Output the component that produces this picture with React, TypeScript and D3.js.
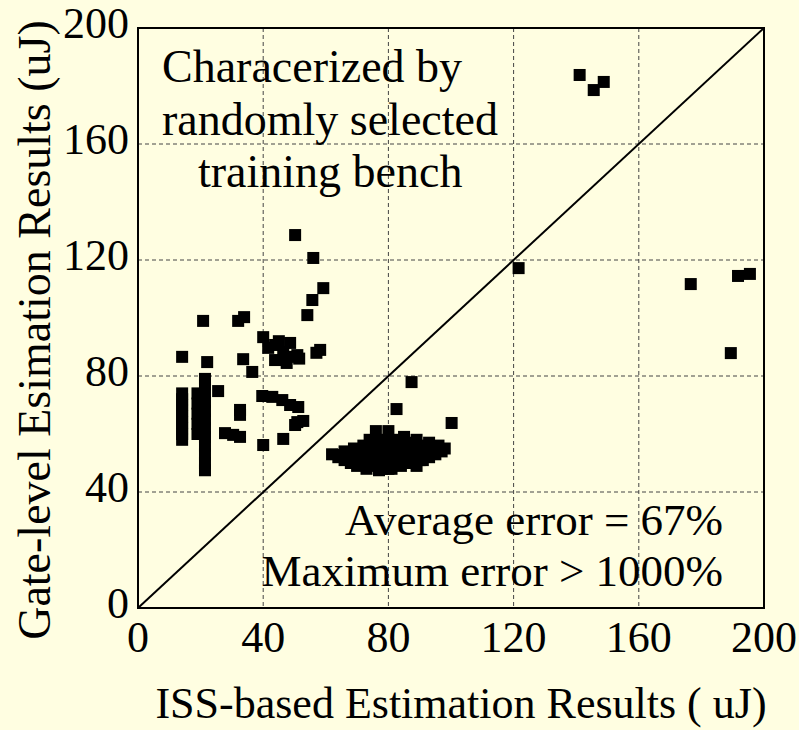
import React from "react";
import * as d3 from "d3";

const WIDTH = 799;
const HEIGHT = 730;
const MARGIN = { top: 28, right: 35, bottom: 122, left: 138 };

const xTicks = [0, 40, 80, 120, 160, 200];
const yTicks = [0, 40, 80, 120, 160, 200];

// ISS-based estimation (x)
const issValues = [
  // outliers
  141.1, 145.6, 148.8, 176.6, 191.7, 195.5, 189.4, 121.6, 87.4, 82.6, 100.2,
  // upper left group
  50.2, 56, 59.2, 55.7, 54.1, 20.8, 32, 33.9, 14.1, 22.1, 33.6, 36.5,
  40, 43.8, 46.4, 48.6, 50.9, 43.8, 48.3, 41.6, 58.2, 57, 45, 51.5, 47.5,
  // lower left group
  14.1, 14.1, 14.1, 14.1, 14.1, 14.1, 14.1, 14.1, 14.1,
  21.4, 21.4, 21.4, 21.4, 21.4, 21.4, 21.4, 21.4, 21.4, 21.4, 21.4, 21.4,
  19, 19, 19, 19, 19, 25.6, 32.6, 32.6, 27.8, 30.4, 32.6, 40, 46.4,
  39.7, 42.9, 46.1, 48.6, 51.2, 50.2, 52.8, 50.9,
  // main cluster
  62, 64, 66, 66, 68, 68, 69, 70, 70, 71, 72, 72, 73, 73, 74, 74, 75, 75,
  76, 76, 76, 77, 77, 78, 78, 79, 79, 80, 80, 81, 81, 82, 82, 83, 84, 84,
  85, 85, 86, 87, 87, 88, 88, 89, 89, 90, 91, 91, 92, 93, 93, 94, 95, 96,
  97, 98, 71, 74, 77, 80, 83, 86, 90, 70, 67, 65,
];

// Gate-level estimation (y)
const gateValues = [
  183.8, 178.6, 181.4, 111.7, 114.5, 115.2, 87.9, 117.2, 77.9, 68.6, 63.8,
  128.6, 120.7, 110.3, 106.2, 101, 99, 99, 100.3, 86.6, 84.8, 85.8, 81.4,
  93.4, 90.7, 88.3, 91.4, 87.2, 85.5, 86.6, 89.7, 89, 88, 92, 86, 84.5,
  58, 60, 62, 64, 66, 68, 70, 72, 74,
  47.5, 50, 53, 56, 59, 62, 65, 68, 71, 74, 77, 79,
  60, 63.5, 67, 70.5, 74, 74.8, 66.6, 68.3, 60.3, 59.7, 59, 56.2, 58.3,
  73.1, 72.8, 71.7, 70, 69.3, 63.1, 64.5, 64.1,
  53, 52, 51, 54, 50, 53, 55, 49, 52, 54, 50, 56, 48, 52, 55, 58, 50, 53,
  49, 56, 61, 52, 58, 48, 54, 50, 57, 52, 61, 48, 55, 50, 58, 53, 49, 56,
  51, 59, 54, 50, 57, 52, 55, 49, 58, 53, 51, 56, 54, 52, 57, 55, 53, 56,
  54, 55, 50, 51, 47.5, 48, 50.5, 52, 51, 54.5, 52.5, 52.8,
];

const noteLines = ["Characerized by", "randomly selected", "training bench"];
const errorLines = ["Average error = 67%", "Maximum error > 1000%"];

const FONT = "'Liberation Serif', 'Times New Roman', serif";

export default function App() {
  const innerW = WIDTH - MARGIN.left - MARGIN.right;
  const innerH = HEIGHT - MARGIN.top - MARGIN.bottom;

  const xScale = d3.scaleLinear().domain([0, 200]).range([0, innerW]);
  const yScale = d3.scaleLinear().domain([0, 200]).range([innerH, 0]);

  const points = issValues.map((x, i) => ({ x, y: gateValues[i] }));
  const diag = d3.line<number>()
    .x((d) => xScale(d))
    .y((d) => yScale(d))([0, 200]);

  const markSize = 12;
  // note lines are not quite centred in the original, so each has its own left edge
  const noteX = [24, 24, 60];

  return (
    <svg
      width={WIDTH}
      height={HEIGHT}
      style={{ display: "block", position: "absolute", left: 0, top: 0, background: "#FFFEE1" }}
      fontFamily={FONT}
    >
      <rect width={WIDTH} height={HEIGHT} fill="#FFFEE1" />
      <g transform={`translate(${MARGIN.left},${MARGIN.top})`}>
        {/* grid */}
        {xTicks.slice(1, -1).map((t) => (
          <line key={"gx" + t} x1={xScale(t)} x2={xScale(t)} y1={0} y2={innerH}
            stroke="#444" strokeWidth={1} strokeDasharray="4,3" />
        ))}
        {yTicks.slice(1, -1).map((t) => (
          <line key={"gy" + t} x1={0} x2={innerW} y1={yScale(t)} y2={yScale(t)}
            stroke="#444" strokeWidth={1} strokeDasharray="4,3" />
        ))}

        {/* diagonal */}
        <path d={diag || ""} stroke="#000" strokeWidth={2} fill="none" />

        {/* points */}
        {points.map((p, i) => (
          <rect key={i}
            x={xScale(p.x) - markSize / 2}
            y={yScale(p.y) - markSize / 2}
            width={markSize} height={markSize} fill="#000" />
        ))}

        {/* frame */}
        <rect x={0} y={0} width={innerW} height={innerH} fill="none" stroke="#000" strokeWidth={2} />

        {/* tick labels */}
        {xTicks.map((t) => (
          <text key={"tx" + t} x={xScale(t)} y={innerH + 44} textAnchor="middle" fontSize={44}>{t}</text>
        ))}
        {yTicks.map((t) => (
          <text key={"ty" + t} x={-9} y={yScale(t) + 10} textAnchor="end" fontSize={44}>{t}</text>
        ))}

        {/* annotations */}
        {noteLines.map((s, i) => (
          <text key={"n" + i} x={noteX[i]} y={54 + i * 52.5} fontSize={46}>{s}</text>
        ))}
        {errorLines.map((s, i) => (
          <text key={"e" + i} x={585} y={507 + i * 51} textAnchor="end" fontSize={45}>{s}</text>
        ))}
      </g>

      {/* axis titles */}
      <text x={461} y={718} textAnchor="middle" fontSize={44}>ISS-based Estimation Results ( uJ)</text>
      <text transform={`translate(50,330) rotate(-90)`} textAnchor="middle" fontSize={46}>
        Gate-level Esimation Results (uJ)
      </text>
    </svg>
  );
}
